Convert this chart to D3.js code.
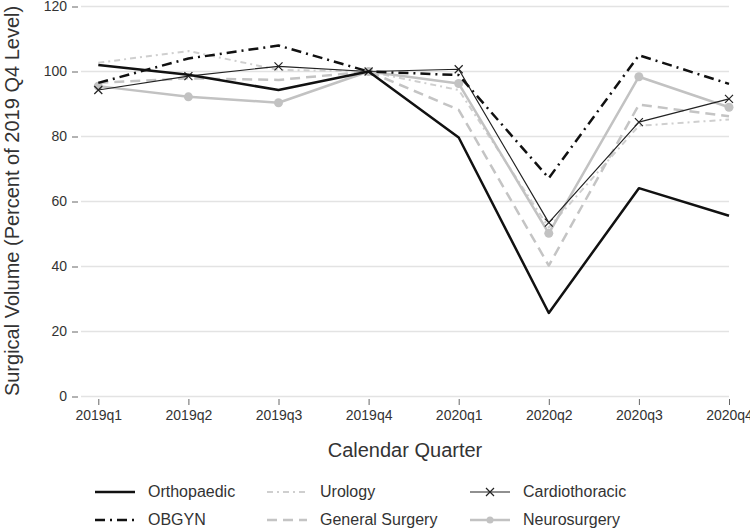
<!DOCTYPE html>
<html>
<head>
<meta charset="utf-8">
<script src="https://cdn.jsdelivr.net/npm/d3@7"></script>
<style>
  html, body { margin: 0; padding: 0; background: #fff; }
  svg { display: block; font-family: "Liberation Sans", Arial, sans-serif; }
</style>
</head>
<body>
<svg id="chart" width="750" height="529"></svg>
<script>
const quarters = ["2019q1","2019q2","2019q3","2019q4","2020q1","2020q2","2020q3","2020q4"];
const yTicks = [0, 20, 40, 60, 80, 100, 120];

const orthopaedic    = [102, 99, 94.3, 100, 79.7, 25.7, 64.1, 55.6];
const obgyn          = [96.5, 104, 108, 100, 98.9, 67.2, 105, 96.2];
const urology        = [102.7, 106.3, 100.5, 100, 94.3, 52, 83.3, 85.2];
const generalSurgery = [96.5, 97.9, 97.4, 100, 88.2, 40.3, 89.8, 86.2];
const cardiothoracic = [94.3, 98.6, 101.6, 100, 100.7, 53.5, 84.4, 91.6];
const neurosurgery   = [95.5, 92.2, 90.4, 100, 96.3, 50.2, 98.4, 89];

const seriesNames = ["Orthopaedic","OBGYN","Urology","General Surgery","Cardiothoracic","Neurosurgery"];
const seriesData = [orthopaedic, obgyn, urology, generalSurgery, cardiothoracic, neurosurgery];

const styles = {
  "Orthopaedic":     {stroke:"#111", width:2.5, dash:null, marker:null},
  "OBGYN":           {stroke:"#111", width:2.5, dash:"10,5,2,5", marker:null},
  "Urology":         {stroke:"#cfcfcf", width:2, dash:"6,4,2,4", marker:null},
  "General Surgery": {stroke:"#c4c4c4", width:2.5, dash:"10,6", marker:null},
  "Cardiothoracic":  {stroke:"#222", width:1.2, dash:null, marker:"x"},
  "Neurosurgery":    {stroke:"#c2c2c2", width:2.5, dash:null, marker:"dot"}
};

const svg = d3.select("#chart");
const x = d3.scalePoint().domain(quarters).range([98.3, 729]);
const y = d3.scaleLinear().domain([0, 120]).range([396.5, 6.5]);
const textColor = "#333";

// gridlines
svg.append("g").selectAll("line").data(yTicks).join("line")
  .attr("x1", 81).attr("x2", 729)
  .attr("y1", d => y(d)).attr("y2", d => y(d))
  .attr("stroke", "#e3e3e3").attr("stroke-width", 1.5);

// y axis
const yAxis = svg.append("g").attr("transform", "translate(78,0)")
  .call(d3.axisLeft(y).tickValues(yTicks).tickSize(6).tickPadding(5));
yAxis.select(".domain").remove();
yAxis.selectAll(".tick line").attr("stroke", "#666").attr("stroke-width", 1);
yAxis.selectAll(".tick text").attr("fill", textColor).style("font-size", "14px")
  .style("font-family", "'Liberation Sans', Arial, sans-serif");

// x axis
const xAxis = svg.append("g").attr("transform", "translate(0,399)")
  .call(d3.axisBottom(x).tickSize(6).tickPadding(5));
xAxis.select(".domain").remove();
xAxis.selectAll(".tick line").attr("stroke", "#666").attr("stroke-width", 1);
xAxis.selectAll(".tick text").attr("fill", textColor).style("font-size", "14px")
  .style("font-family", "'Liberation Sans', Arial, sans-serif");

// titles
svg.append("text").attr("x", 405).attr("y", 457).attr("text-anchor", "middle")
  .attr("fill", textColor).style("font-size", "20px").text("Calendar Quarter");
svg.append("text").attr("transform", "translate(19,201) rotate(-90)").attr("text-anchor", "middle")
  .attr("fill", textColor).style("font-size", "20px").text("Surgical Volume (Percent of 2019 Q4 Level)");

const line = d3.line().x((d, i) => x(quarters[i])).y(d => y(d));

function drawMarker(g, cx, cy, type, st) {
  if (type === "x") {
    const s = 4;
    g.append("path").attr("d", `M${cx-s},${cy-s}L${cx+s},${cy+s}M${cx-s},${cy+s}L${cx+s},${cy-s}`)
      .attr("stroke", st.stroke).attr("stroke-width", 1.2).attr("fill", "none");
  } else if (type === "dot") {
    g.append("circle").attr("cx", cx).attr("cy", cy).attr("r", 4.5).attr("fill", st.stroke);
  }
}

// draw order: lighter series beneath
const order = ["Urology","General Surgery","Neurosurgery","Cardiothoracic","OBGYN","Orthopaedic"];
order.forEach(name => {
  const idx = seriesNames.indexOf(name);
  const vals = seriesData[idx];
  const st = styles[name];
  const g = svg.append("g");
  g.append("path").datum(vals).attr("d", line)
    .attr("fill", "none").attr("stroke", st.stroke).attr("stroke-width", st.width)
    .attr("stroke-dasharray", st.dash).attr("stroke-linejoin", "round");
  if (st.marker) vals.forEach((v, i) => drawMarker(g, x(quarters[i]), y(v), st.marker, st));
});

// legend
const legendPos = [
  {name:"Orthopaedic", lx:95, ly:492},
  {name:"Urology", lx:267, ly:492},
  {name:"Cardiothoracic", lx:470, ly:492},
  {name:"OBGYN", lx:95, ly:520},
  {name:"General Surgery", lx:267, ly:520},
  {name:"Neurosurgery", lx:470, ly:520}
];
legendPos.forEach(p => {
  const st = styles[p.name];
  const g = svg.append("g");
  g.append("line").attr("x1", p.lx).attr("x2", p.lx + 40).attr("y1", p.ly).attr("y2", p.ly)
    .attr("stroke", st.stroke).attr("stroke-width", st.width).attr("stroke-dasharray", st.dash);
  if (st.marker === "x") drawMarker(g, p.lx + 20, p.ly, "x", {stroke: st.stroke});
  if (st.marker === "dot") g.append("circle").attr("cx", p.lx + 20).attr("cy", p.ly).attr("r", 3.5).attr("fill", st.stroke);
  g.append("text").attr("x", p.lx + 53).attr("y", p.ly + 5).attr("fill", textColor)
    .style("font-size", "16px").text(p.name);
});
</script>
</body>
</html>
